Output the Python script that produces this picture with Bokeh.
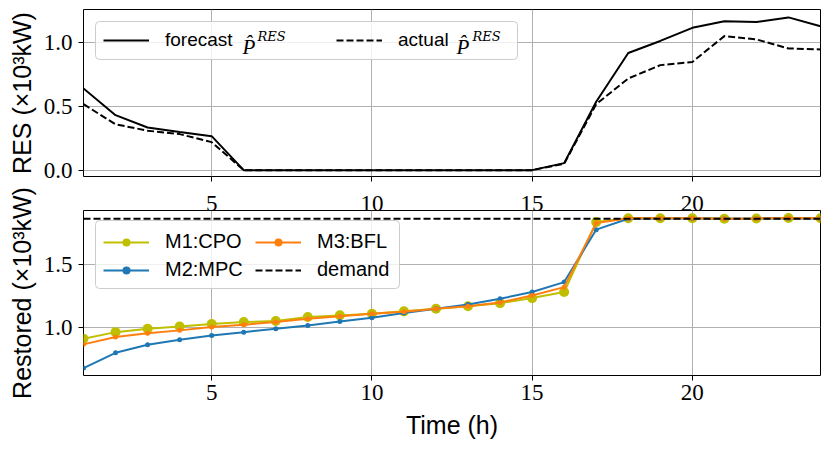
from bokeh.plotting import figure
from bokeh.models import (Range1d, FixedTicker, PrintfTickFormatter, Legend,
                          LegendItem, Label, ColumnDataSource, LinearAxis,
                          CustomJSTickFormatter, BoxAnnotation)
from bokeh.layouts import column
from bokeh.embed import file_html
from bokeh.resources import INLINE

# ---- data ----
hours = list(range(1, 25))
forecast_res = [0.642, 0.432, 0.335, 0.300, 0.267, 0.0, 0.0, 0.0, 0.0, 0.0, 0.0, 0.0,
                0.0, 0.0, 0.0, 0.055, 0.537, 0.920, 1.015, 1.118, 1.170, 1.163, 1.200, 1.130]
actual_res = [0.518, 0.360, 0.310, 0.283, 0.220, 0.0, 0.0, 0.0, 0.0, 0.0, 0.0, 0.0,
              0.0, 0.0, 0.0, 0.050, 0.518, 0.720, 0.825, 0.850, 1.053, 1.027, 0.956, 0.948]
m1_cpo = [0.913, 0.965, 0.992, 1.010, 1.030, 1.045, 1.053, 1.085, 1.098, 1.110, 1.130, 1.150,
          1.170, 1.195, 1.235, 1.283, 1.838, 1.868, 1.868, 1.868, 1.865, 1.867, 1.870, 1.868]
m2_mpc = [0.680, 0.801, 0.865, 0.905, 0.939, 0.965, 0.992, 1.018, 1.050, 1.079, 1.116, 1.150,
          1.185, 1.230, 1.283, 1.362, 1.778, 1.865, 1.866, 1.866, 1.865, 1.866, 1.868, 1.866]
m3_bfl = [0.868, 0.926, 0.957, 0.979, 1.005, 1.024, 1.045, 1.071, 1.092, 1.110, 1.127, 1.150,
          1.170, 1.200, 1.256, 1.322, 1.830, 1.868, 1.868, 1.868, 1.865, 1.867, 1.870, 1.868]
demand = [1.865] * 24
x_ticks = [5, 10, 15, 20]
res_ticks = [0.0, 0.5, 1.0]
restored_ticks = [1.0, 1.5]

SERIF = "Liberation Serif"
SANS = "Liberation Sans"

src_top = ColumnDataSource(dict(h=hours, f=forecast_res, a=actual_res))
src_bot = ColumnDataSource(dict(h=hours, cpo=m1_cpo, mpc=m2_mpc, bfl=m3_bfl, d=demand))


def style(p, yticks):
    p.xaxis.ticker = FixedTicker(ticks=x_ticks)
    p.yaxis.ticker = FixedTicker(ticks=yticks)
    p.yaxis.formatter = PrintfTickFormatter(format="%.1f")
    for ax in p.axis:
        ax.major_label_text_font = SERIF
        ax.major_label_text_font_size = "23px"
        ax.major_label_text_color = "black"
        ax.axis_label_text_font = SANS
        ax.axis_label_text_font_size = "25px"
        ax.axis_label_text_font_style = "normal"
        ax.axis_label_text_color = "black"
        ax.major_tick_in = 0
        ax.major_tick_out = 5
        ax.minor_tick_in = 0
        ax.minor_tick_out = 0
        ax.major_tick_line_color = "black"
        ax.major_tick_line_width = 1
        ax.axis_line_color = None
        ax.major_label_standoff = 6
        ax.axis_label_standoff = 5
    p.outline_line_color = "black"
    p.outline_line_width = 1
    p.outline_line_alpha = 1
    p.grid.grid_line_color = "#b0b0b0"
    p.grid.grid_line_width = 1
    p.background_fill_color = "white"
    p.border_fill_color = "white"


def legend_frame(p, left, right, top, bottom):
    box = BoxAnnotation(left=left, right=right, top=top, bottom=bottom,
                        left_units="screen", right_units="screen",
                        top_units="screen", bottom_units="screen",
                        fill_color="white", fill_alpha=0.8,
                        line_color="#cccccc", line_width=1, line_alpha=1)
    try:
        box.border_radius = 4
    except Exception:
        pass
    p.add_layout(box)


def style_legend(lg, size):
    lg.label_text_font = SANS
    lg.label_text_font_size = size
    lg.label_text_color = "black"
    lg.glyph_width = 46
    lg.glyph_height = 20
    lg.label_standoff = 16
    lg.padding = 0
    lg.border_line_color = None
    lg.background_fill_alpha = 0


# ---- top panel ----
p1 = figure(frame_width=737, frame_height=167, x_range=Range1d(1, 24),
            y_range=Range1d(-0.05, 1.262), output_backend="svg", toolbar_location=None,
            min_border_left=83, min_border_top=9, min_border_right=8, min_border_bottom=8)
style(p1, res_ticks)
p1.yaxis.axis_label = "RES (×10³kW)"
# tick marks only; the hour labels of this panel are drawn by the axis above the lower panel
p1.xaxis.formatter = CustomJSTickFormatter(code="return ''")
p1.xaxis.major_label_text_font_size = "0px"
p1.xaxis.major_label_standoff = 0
r_f = p1.line("h", "f", source=src_top, line_color="black", line_width=2)
r_a = p1.line("h", "a", source=src_top, line_color="black", line_width=2, line_dash="7 3")
legend_frame(p1, 12, 434, 155, 117)
lg1 = Legend(items=[LegendItem(label="forecast", renderers=[r_f]),
                    LegendItem(label="actual", renderers=[r_a])],
             orientation="horizontal", location="top_left", margin=20,
             spacing=60, label_width=111)
style_legend(lg1, "19px")
p1.add_layout(lg1)
for xs, txt, font, sz, yb in [(159, "P̂", SERIF, "21px", 130),
                              (174, "RES", "DejaVu Serif", "13px", 140),
                              (373, "P̂", SERIF, "21px", 130),
                              (389, "RES", "DejaVu Serif", "13px", 140)]:
    p1.add_layout(Label(x=xs, y=yb, x_units="screen", y_units="screen", text=txt,
                        text_font=font, text_font_style="italic", text_font_size=sz,
                        text_color="black", text_baseline="alphabetic"))

# ---- bottom panel ----
p2 = figure(frame_width=737, frame_height=165, x_range=p1.x_range,
            y_range=Range1d(0.621, 1.93), output_backend="svg", toolbar_location=None,
            min_border_left=83, min_border_top=26, min_border_right=8, min_border_bottom=2)
style(p2, restored_ticks)
p2.yaxis.axis_label = "Restored (×10³kW)"
p2.xaxis.axis_label = "Time (h)"
p2.xaxis.major_label_standoff = 4
p2.xaxis.axis_label_standoff = 8
# hour labels belonging to the upper panel
upper_hours = LinearAxis(ticker=FixedTicker(ticks=x_ticks), major_tick_in=0, major_tick_out=0,
                         minor_tick_in=0, minor_tick_out=0, axis_line_color=None,
                         major_label_standoff=0, major_label_text_font=SERIF,
                         major_label_text_font_size="23px", major_label_text_color="black")
p2.add_layout(upper_hours, "above")

l1 = p2.line("h", "cpo", source=src_bot, line_color="#bfbf00", line_width=2)
s1 = p2.scatter("h", "cpo", source=src_bot, size=10, fill_color="#bfbf00", line_color=None)
l2 = p2.line("h", "mpc", source=src_bot, line_color="#1f77b4", line_width=2)
s2 = p2.scatter("h", "mpc", source=src_bot, size=5, fill_color="#1f77b4", line_color=None)
l3 = p2.line("h", "bfl", source=src_bot, line_color="#ff7f0e", line_width=2)
s3 = p2.scatter("h", "bfl", source=src_bot, size=5, fill_color="#ff7f0e", line_color=None)
l4 = p2.line("h", "d", source=src_bot, line_color="black", line_width=2, line_dash="7 3")
legend_frame(p2, 12, 316, 155, 87)
lg2a = Legend(items=[LegendItem(label="M1:CPO", renderers=[l1, s1]),
                     LegendItem(label="M2:MPC", renderers=[l2, s2])],
              orientation="vertical", location=(20, 94), spacing=5)
lg2b = Legend(items=[LegendItem(label="M3:BFL", renderers=[l3, s3]),
                     LegendItem(label="demand", renderers=[l4])],
              orientation="vertical", location=(172, 94), spacing=5)
for lg in (lg2a, lg2b):
    style_legend(lg, "20px")
    p2.add_layout(lg)

layout = column(p1, p2)
open("out.html", "w").write(file_html(layout, INLINE))
